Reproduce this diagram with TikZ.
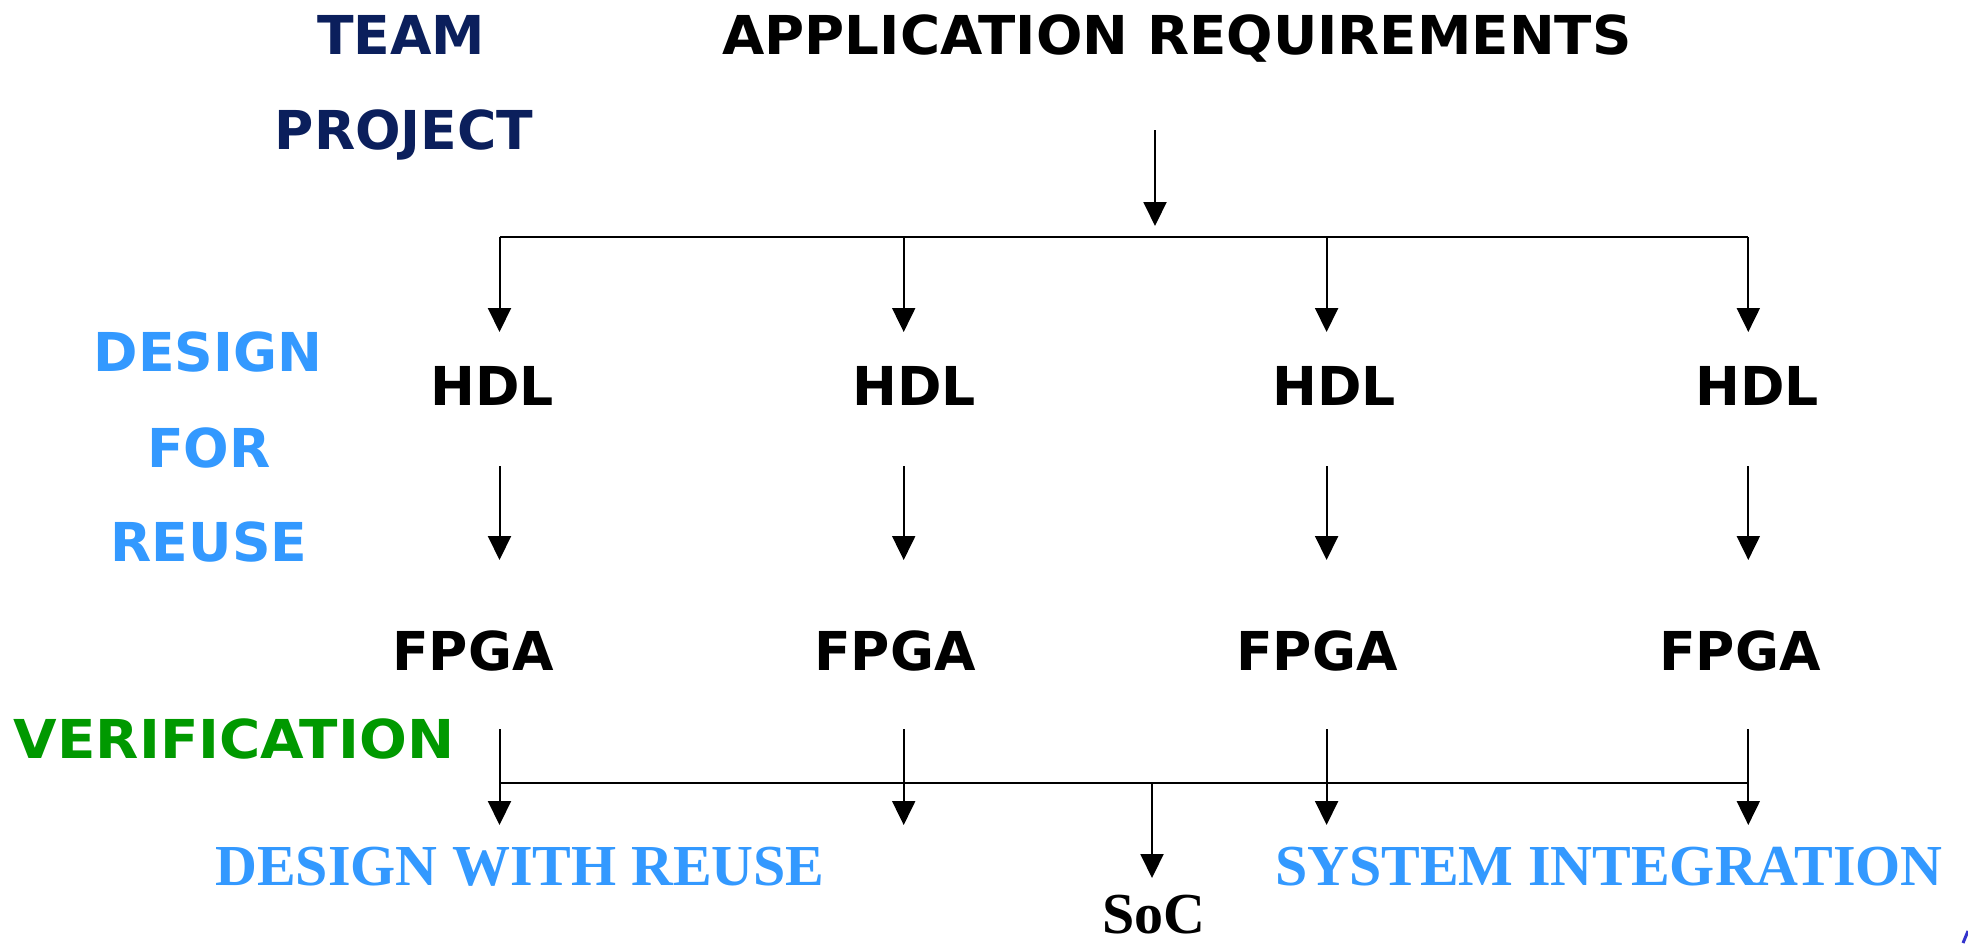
\documentclass[tikz,border=0pt]{standalone}
\usepackage{fontspec}
\setmainfont{Liberation Serif}
\newfontfamily\vsans{DejaVu Sans}
\usetikzlibrary{arrows.meta}
\definecolor{navy}{HTML}{0B1F5C}
\definecolor{skyb}{HTML}{3399FF}
\definecolor{vgreen}{HTML}{009900}
\definecolor{frag}{HTML}{3333CC}
\begin{document}
\begin{tikzpicture}[x=0.5pt,y=-0.5pt,
  ln/.style={line width=1pt},
  arr/.style={line width=1pt,-{Triangle[width=11.5pt,length=12pt]}},
  lab/.style={anchor=base,inner sep=0pt,font=\vsans\bfseries\fontsize{26.8}{30}\selectfont},
  ser/.style={anchor=base,inner sep=0pt,font=\bfseries\fontsize{29}{32}\selectfont}]
\useasboundingbox[fill=white] (0,0) rectangle (1968,943);
% labels
\node[lab,text=navy] (team) at (401,54) {TEAM};
\node[lab,text=navy] (proj) at (404,149) {PROJECT};
\node[lab,xscale=1.02] (app) at (1177,54) {APPLICATION REQUIREMENTS};
\node[lab,text=skyb] (design) at (208,371.5) {DESIGN};
\node[lab,text=skyb] (for) at (209,467) {FOR};
\node[lab,text=skyb] (reuse) at (209,561) {REUSE};
\node[lab,text=vgreen,xscale=1.05] (verif) at (234,758) {VERIFICATION};
\node[lab] (hdl1) at (492,405) {HDL};
\node[lab] (hdl2) at (914,405) {HDL};
\node[lab] (hdl3) at (1334,405) {HDL};
\node[lab] (hdl4) at (1757,405) {HDL};
\node[lab] (fpga1) at (473,670) {FPGA};
\node[lab] (fpga2) at (895,670) {FPGA};
\node[lab] (fpga3) at (1317,670) {FPGA};
\node[lab] (fpga4) at (1740,670) {FPGA};
\node[ser,text=skyb] (dwr) at (520,885) {DESIGN WITH REUSE};
\node[ser,text=skyb] (si) at (1609,885) {SYSTEM INTEGRATION};
\node[ser] (soc) at (1154,933) {SoC};
% connector points
\foreach \i/\x in {1/499.5,2/903.7,3/1326.6,4/1748.3}{
  \coordinate (tb\i) at (\x,237);
  \coordinate (ht\i) at (\x,332);
  \coordinate (hs\i) at (\x,466);
  \coordinate (ft\i) at (\x,560);
  \coordinate (fs\i) at (\x,729);
  \coordinate (bb\i) at (\x,783);
  \coordinate (st\i) at (\x,825);
}
\coordinate (a0) at (1155,130);
\coordinate (a1) at (1155,226);
\coordinate (sb) at (1152,783);
\coordinate (stt) at (1152,878);
% connectors
\draw[arr] (a0) -- (a1);
\draw[ln] (tb1) -- (tb4);
\draw[ln] (bb1) -- (bb4);
\foreach \i in {1,2,3,4}{
  \draw[arr] (tb\i) -- (ht\i);
  \draw[arr] (hs\i) -- (ft\i);
  \draw[arr] (fs\i) -- (st\i);
}
\draw[arr] (sb) -- (stt);
% cut-off fragment at the corner
\draw[frag,line width=1.5pt] (1963,943) -- (1968,931);
\end{tikzpicture}
\end{document}
